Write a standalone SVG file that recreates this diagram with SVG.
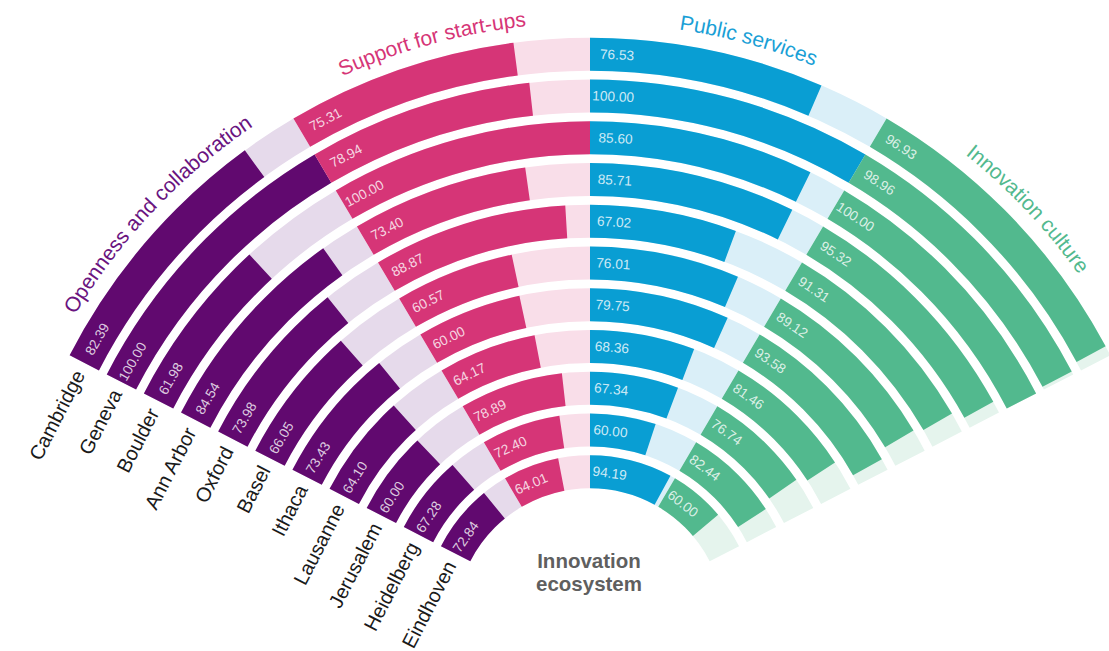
<svg xmlns="http://www.w3.org/2000/svg" width="1109" height="651" viewBox="0 0 1109 651">
<style>
.a{fill:none;stroke-width:33}
.pt{stroke:#e6daeb;stroke-dasharray:32.35 400;stroke-dashoffset:-162.2}
.kt{stroke:#f9dee9;stroke-dasharray:30.45 400;stroke-dashoffset:-194.55}
.bt{stroke:#daeff8;stroke-dasharray:30.45 400;stroke-dashoffset:-225}
.gt{stroke:#e5f4ed;stroke-dasharray:32.35 400;stroke-dashoffset:-255.45}
.pb{stroke:#61096f;stroke-dashoffset:-162.2}
.kb{stroke:#d63577;stroke-dashoffset:-194.55}
.bb{stroke:#099ed3;stroke-dashoffset:-225}
.gb{stroke:#52b98e;stroke-dashoffset:-255.45}
.v{font-family:"Liberation Sans",Arial,sans-serif;font-size:13.7px;fill:#fff;fill-opacity:.8;text-anchor:middle}
.c{font-family:"Liberation Sans",Arial,sans-serif;font-size:20px;fill:#1a1a1a;text-anchor:end}
.h{font-family:"Liberation Sans",Arial,sans-serif;font-size:21px;text-anchor:middle}
.m{font-family:"Liberation Sans",Arial,sans-serif;font-size:20.5px;font-weight:bold;fill:#5f5f5f;text-anchor:middle}
</style>
<defs>
<path id="tp" d="M -10 622.8 A 600 600 0 0 1 1190 622.8"/>
</defs>
<rect width="1109" height="651" fill="#fff"/>

<g id="ring-cambridge">
<g transform="rotate(45 590 622.8)">
<circle class="a pt" cx="590" cy="622.8" r="568.6" pathLength="360"/>
<circle class="a kt" cx="590" cy="622.8" r="568.6" pathLength="360"/>
<circle class="a bt" cx="590" cy="622.8" r="568.6" pathLength="360"/>
<circle class="a gt" cx="590" cy="622.8" r="568.6" pathLength="360"/>
<circle class="a pb" cx="590" cy="622.8" r="568.6" pathLength="360" style="stroke-dasharray:26.653 400"/>
<circle class="a kb" cx="590" cy="622.8" r="568.6" pathLength="360" style="stroke-dasharray:22.932 400"/>
<circle class="a bb" cx="590" cy="622.8" r="568.6" pathLength="360" style="stroke-dasharray:23.303 400"/>
<circle class="a gb" cx="590" cy="622.8" r="568.6" pathLength="360" style="stroke-dasharray:31.357 400"/>
</g>
<text class="v" x="590" y="58.9" transform="rotate(-60.073 590 622.8)">82.39</text>
<text class="v" x="590" y="58.9" transform="rotate(-27.723 590 622.8)">75.31</text>
<text class="v" x="590" y="58.9" transform="rotate(2.727 590 622.8)">76.53</text>
<text class="v" x="590" y="58.9" transform="rotate(33.177 590 622.8)">96.93</text>
<text class="c" x="580" y="60.7" transform="rotate(-62.8 590 622.8)">Cambridge</text>
</g>

<g id="ring-geneva">
<g transform="rotate(45 590 622.8)">
<circle class="a pt" cx="590" cy="622.8" r="526.85" pathLength="360"/>
<circle class="a kt" cx="590" cy="622.8" r="526.85" pathLength="360"/>
<circle class="a bt" cx="590" cy="622.8" r="526.85" pathLength="360"/>
<circle class="a gt" cx="590" cy="622.8" r="526.85" pathLength="360"/>
<circle class="a pb" cx="590" cy="622.8" r="526.85" pathLength="360" style="stroke-dasharray:32.35 400"/>
<circle class="a kb" cx="590" cy="622.8" r="526.85" pathLength="360" style="stroke-dasharray:24.037 400"/>
<circle class="a bb" cx="590" cy="622.8" r="526.85" pathLength="360" style="stroke-dasharray:30.45 400"/>
<circle class="a gb" cx="590" cy="622.8" r="526.85" pathLength="360" style="stroke-dasharray:32.014 400"/>
</g>
<text class="v" x="590" y="100.65" transform="rotate(-60.272 590 622.8)">100.00</text>
<text class="v" x="590" y="100.65" transform="rotate(-27.586 590 622.8)">78.94</text>
<text class="v" x="590" y="100.65" transform="rotate(2.528 590 622.8)">100.00</text>
<text class="v" x="590" y="100.65" transform="rotate(33.314 590 622.8)">98.96</text>
<text class="c" x="580" y="102.45" transform="rotate(-62.8 590 622.8)">Geneva</text>
</g>

<g id="ring-boulder">
<g transform="rotate(45 590 622.8)">
<circle class="a pt" cx="590" cy="622.8" r="485.1" pathLength="360"/>
<circle class="a kt" cx="590" cy="622.8" r="485.1" pathLength="360"/>
<circle class="a bt" cx="590" cy="622.8" r="485.1" pathLength="360"/>
<circle class="a gt" cx="590" cy="622.8" r="485.1" pathLength="360"/>
<circle class="a pb" cx="590" cy="622.8" r="485.1" pathLength="360" style="stroke-dasharray:20.051 400"/>
<circle class="a kb" cx="590" cy="622.8" r="485.1" pathLength="360" style="stroke-dasharray:30.45 400"/>
<circle class="a bb" cx="590" cy="622.8" r="485.1" pathLength="360" style="stroke-dasharray:26.065 400"/>
<circle class="a gb" cx="590" cy="622.8" r="485.1" pathLength="360" style="stroke-dasharray:32.35 400"/>
</g>
<text class="v" x="590" y="142.4" transform="rotate(-59.775 590 622.8)">61.98</text>
<text class="v" x="590" y="142.4" transform="rotate(-27.726 590 622.8)">100.00</text>
<text class="v" x="590" y="142.4" transform="rotate(3.025 590 622.8)">85.60</text>
<text class="v" x="590" y="142.4" transform="rotate(33.174 590 622.8)">100.00</text>
<text class="c" x="580" y="144.2" transform="rotate(-62.8 590 622.8)">Boulder</text>
</g>

<g id="ring-ann-arbor">
<g transform="rotate(45 590 622.8)">
<circle class="a pt" cx="590" cy="622.8" r="443.35" pathLength="360"/>
<circle class="a kt" cx="590" cy="622.8" r="443.35" pathLength="360"/>
<circle class="a bt" cx="590" cy="622.8" r="443.35" pathLength="360"/>
<circle class="a gt" cx="590" cy="622.8" r="443.35" pathLength="360"/>
<circle class="a pb" cx="590" cy="622.8" r="443.35" pathLength="360" style="stroke-dasharray:27.349 400"/>
<circle class="a kb" cx="590" cy="622.8" r="443.35" pathLength="360" style="stroke-dasharray:22.35 400"/>
<circle class="a bb" cx="590" cy="622.8" r="443.35" pathLength="360" style="stroke-dasharray:26.099 400"/>
<circle class="a gb" cx="590" cy="622.8" r="443.35" pathLength="360" style="stroke-dasharray:30.836 400"/>
</g>
<text class="v" x="590" y="184.15" transform="rotate(-59.585 590 622.8)">84.54</text>
<text class="v" x="590" y="184.15" transform="rotate(-27.235 590 622.8)">73.40</text>
<text class="v" x="590" y="184.15" transform="rotate(3.215 590 622.8)">85.71</text>
<text class="v" x="590" y="184.15" transform="rotate(33.665 590 622.8)">95.32</text>
<text class="c" x="580" y="185.95" transform="rotate(-62.8 590 622.8)">Ann Arbor</text>
</g>

<g id="ring-oxford">
<g transform="rotate(45 590 622.8)">
<circle class="a pt" cx="590" cy="622.8" r="401.6" pathLength="360"/>
<circle class="a kt" cx="590" cy="622.8" r="401.6" pathLength="360"/>
<circle class="a bt" cx="590" cy="622.8" r="401.6" pathLength="360"/>
<circle class="a gt" cx="590" cy="622.8" r="401.6" pathLength="360"/>
<circle class="a pb" cx="590" cy="622.8" r="401.6" pathLength="360" style="stroke-dasharray:23.933 400"/>
<circle class="a kb" cx="590" cy="622.8" r="401.6" pathLength="360" style="stroke-dasharray:27.061 400"/>
<circle class="a bb" cx="590" cy="622.8" r="401.6" pathLength="360" style="stroke-dasharray:20.408 400"/>
<circle class="a gb" cx="590" cy="622.8" r="401.6" pathLength="360" style="stroke-dasharray:29.539 400"/>
</g>
<text class="v" x="590" y="225.9" transform="rotate(-59.354 590 622.8)">73.98</text>
<text class="v" x="590" y="225.9" transform="rotate(-27.004 590 622.8)">88.87</text>
<text class="v" x="590" y="225.9" transform="rotate(3.446 590 622.8)">67.02</text>
<text class="v" x="590" y="225.9" transform="rotate(33.896 590 622.8)">91.31</text>
<text class="c" x="580" y="227.7" transform="rotate(-62.8 590 622.8)">Oxford</text>
</g>

<g id="ring-basel">
<g transform="rotate(45 590 622.8)">
<circle class="a pt" cx="590" cy="622.8" r="359.85" pathLength="360"/>
<circle class="a kt" cx="590" cy="622.8" r="359.85" pathLength="360"/>
<circle class="a bt" cx="590" cy="622.8" r="359.85" pathLength="360"/>
<circle class="a gt" cx="590" cy="622.8" r="359.85" pathLength="360"/>
<circle class="a pb" cx="590" cy="622.8" r="359.85" pathLength="360" style="stroke-dasharray:21.367 400"/>
<circle class="a kb" cx="590" cy="622.8" r="359.85" pathLength="360" style="stroke-dasharray:18.444 400"/>
<circle class="a bb" cx="590" cy="622.8" r="359.85" pathLength="360" style="stroke-dasharray:23.145 400"/>
<circle class="a gb" cx="590" cy="622.8" r="359.85" pathLength="360" style="stroke-dasharray:28.83 400"/>
</g>
<text class="v" x="590" y="267.65" transform="rotate(-59.071 590 622.8)">66.05</text>
<text class="v" x="590" y="267.65" transform="rotate(-26.721 590 622.8)">60.57</text>
<text class="v" x="590" y="267.65" transform="rotate(3.729 590 622.8)">76.01</text>
<text class="v" x="590" y="267.65" transform="rotate(34.179 590 622.8)">89.12</text>
<text class="c" x="580" y="269.45" transform="rotate(-62.8 590 622.8)">Basel</text>
</g>

<g id="ring-ithaca">
<g transform="rotate(45 590 622.8)">
<circle class="a pt" cx="590" cy="622.8" r="318.1" pathLength="360"/>
<circle class="a kt" cx="590" cy="622.8" r="318.1" pathLength="360"/>
<circle class="a bt" cx="590" cy="622.8" r="318.1" pathLength="360"/>
<circle class="a gt" cx="590" cy="622.8" r="318.1" pathLength="360"/>
<circle class="a pb" cx="590" cy="622.8" r="318.1" pathLength="360" style="stroke-dasharray:23.755 400"/>
<circle class="a kb" cx="590" cy="622.8" r="318.1" pathLength="360" style="stroke-dasharray:18.27 400"/>
<circle class="a bb" cx="590" cy="622.8" r="318.1" pathLength="360" style="stroke-dasharray:24.284 400"/>
<circle class="a gb" cx="590" cy="622.8" r="318.1" pathLength="360" style="stroke-dasharray:30.273 400"/>
</g>
<text class="v" x="590" y="309.4" transform="rotate(-58.713 590 622.8)">73.43</text>
<text class="v" x="590" y="309.4" transform="rotate(-26.363 590 622.8)">60.00</text>
<text class="v" x="590" y="309.4" transform="rotate(4.087 590 622.8)">79.75</text>
<text class="v" x="590" y="309.4" transform="rotate(34.537 590 622.8)">93.58</text>
<text class="c" x="580" y="311.2" transform="rotate(-62.8 590 622.8)">Ithaca</text>
</g>

<g id="ring-lausanne">
<g transform="rotate(45 590 622.8)">
<circle class="a pt" cx="590" cy="622.8" r="276.35" pathLength="360"/>
<circle class="a kt" cx="590" cy="622.8" r="276.35" pathLength="360"/>
<circle class="a bt" cx="590" cy="622.8" r="276.35" pathLength="360"/>
<circle class="a gt" cx="590" cy="622.8" r="276.35" pathLength="360"/>
<circle class="a pb" cx="590" cy="622.8" r="276.35" pathLength="360" style="stroke-dasharray:20.736 400"/>
<circle class="a kb" cx="590" cy="622.8" r="276.35" pathLength="360" style="stroke-dasharray:19.54 400"/>
<circle class="a bb" cx="590" cy="622.8" r="276.35" pathLength="360" style="stroke-dasharray:20.816 400"/>
<circle class="a gb" cx="590" cy="622.8" r="276.35" pathLength="360" style="stroke-dasharray:26.352 400"/>
</g>
<text class="v" x="590" y="351.15" transform="rotate(-58.246 590 622.8)">64.10</text>
<text class="v" x="590" y="351.15" transform="rotate(-25.896 590 622.8)">64.17</text>
<text class="v" x="590" y="351.15" transform="rotate(4.554 590 622.8)">68.36</text>
<text class="v" x="590" y="351.15" transform="rotate(35.004 590 622.8)">81.46</text>
<text class="c" x="580" y="352.95" transform="rotate(-62.8 590 622.8)">Lausanne</text>
</g>

<g id="ring-jerusalem">
<g transform="rotate(45 590 622.8)">
<circle class="a pt" cx="590" cy="622.8" r="234.6" pathLength="360"/>
<circle class="a kt" cx="590" cy="622.8" r="234.6" pathLength="360"/>
<circle class="a bt" cx="590" cy="622.8" r="234.6" pathLength="360"/>
<circle class="a gt" cx="590" cy="622.8" r="234.6" pathLength="360"/>
<circle class="a pb" cx="590" cy="622.8" r="234.6" pathLength="360" style="stroke-dasharray:19.41 400"/>
<circle class="a kb" cx="590" cy="622.8" r="234.6" pathLength="360" style="stroke-dasharray:24.022 400"/>
<circle class="a bb" cx="590" cy="622.8" r="234.6" pathLength="360" style="stroke-dasharray:20.505 400"/>
<circle class="a gb" cx="590" cy="622.8" r="234.6" pathLength="360" style="stroke-dasharray:24.825 400"/>
</g>
<text class="v" x="590" y="392.9" transform="rotate(-57.614 590 622.8)">60.00</text>
<text class="v" x="590" y="392.9" transform="rotate(-25.264 590 622.8)">78.89</text>
<text class="v" x="590" y="392.9" transform="rotate(5.186 590 622.8)">67.34</text>
<text class="v" x="590" y="392.9" transform="rotate(35.636 590 622.8)">76.74</text>
<text class="c" x="580" y="394.7" transform="rotate(-62.8 590 622.8)">Jerusalem</text>
</g>

<g id="ring-heidelberg">
<g transform="rotate(45 590 622.8)">
<circle class="a pt" cx="590" cy="622.8" r="192.85" pathLength="360"/>
<circle class="a kt" cx="590" cy="622.8" r="192.85" pathLength="360"/>
<circle class="a bt" cx="590" cy="622.8" r="192.85" pathLength="360"/>
<circle class="a gt" cx="590" cy="622.8" r="192.85" pathLength="360"/>
<circle class="a pb" cx="590" cy="622.8" r="192.85" pathLength="360" style="stroke-dasharray:21.765 400"/>
<circle class="a kb" cx="590" cy="622.8" r="192.85" pathLength="360" style="stroke-dasharray:22.046 400"/>
<circle class="a bb" cx="590" cy="622.8" r="192.85" pathLength="360" style="stroke-dasharray:18.27 400"/>
<circle class="a gb" cx="590" cy="622.8" r="192.85" pathLength="360" style="stroke-dasharray:26.669 400"/>
</g>
<text class="v" x="590" y="434.65" transform="rotate(-56.707 590 622.8)">67.28</text>
<text class="v" x="590" y="434.65" transform="rotate(-24.357 590 622.8)">72.40</text>
<text class="v" x="590" y="434.65" transform="rotate(6.093 590 622.8)">60.00</text>
<text class="v" x="590" y="434.65" transform="rotate(36.543 590 622.8)">82.44</text>
<text class="c" x="580" y="436.45" transform="rotate(-62.8 590 622.8)">Heidelberg</text>
</g>

<g id="ring-eindhoven">
<g transform="rotate(45 590 622.8)">
<circle class="a pt" cx="590" cy="622.8" r="151.1" pathLength="360"/>
<circle class="a kt" cx="590" cy="622.8" r="151.1" pathLength="360"/>
<circle class="a bt" cx="590" cy="622.8" r="151.1" pathLength="360"/>
<circle class="a gt" cx="590" cy="622.8" r="151.1" pathLength="360"/>
<circle class="a pb" cx="590" cy="622.8" r="151.1" pathLength="360" style="stroke-dasharray:23.564 400"/>
<circle class="a kb" cx="590" cy="622.8" r="151.1" pathLength="360" style="stroke-dasharray:19.491 400"/>
<circle class="a bb" cx="590" cy="622.8" r="151.1" pathLength="360" style="stroke-dasharray:28.681 400"/>
<circle class="a gb" cx="590" cy="622.8" r="151.1" pathLength="360" style="stroke-dasharray:19.41 400"/>
</g>
<text class="v" x="590" y="476.4" transform="rotate(-55.3 590 622.8)">72.84</text>
<text class="v" x="590" y="476.4" transform="rotate(-22.95 590 622.8)">64.01</text>
<text class="v" x="590" y="476.4" transform="rotate(7.5 590 622.8)">94.19</text>
<text class="v" x="590" y="476.4" transform="rotate(37.95 590 622.8)">60.00</text>
<text class="c" x="580" y="478.2" transform="rotate(-62.8 590 622.8)">Eindhoven</text>
</g>

<g id="titles">
<text class="h" fill="#6a1480"><textPath href="#tp" startOffset="24.1%">Openness and collaboration</textPath></text>
<text class="h" fill="#d63577"><textPath href="#tp" startOffset="41.54%">Support for start-ups</textPath></text>
<text class="h" fill="#1a9fd6"><textPath href="#tp" startOffset="58.46%">Public services</textPath></text>
<text class="h" fill="#52b98e"><textPath href="#tp" startOffset="75.9%">Innovation culture</textPath></text>
</g>

<g id="center-label">
<text class="m" x="589" y="568">Innovation</text>
<text class="m" x="589" y="590.5">ecosystem</text>
</g>
</svg>
